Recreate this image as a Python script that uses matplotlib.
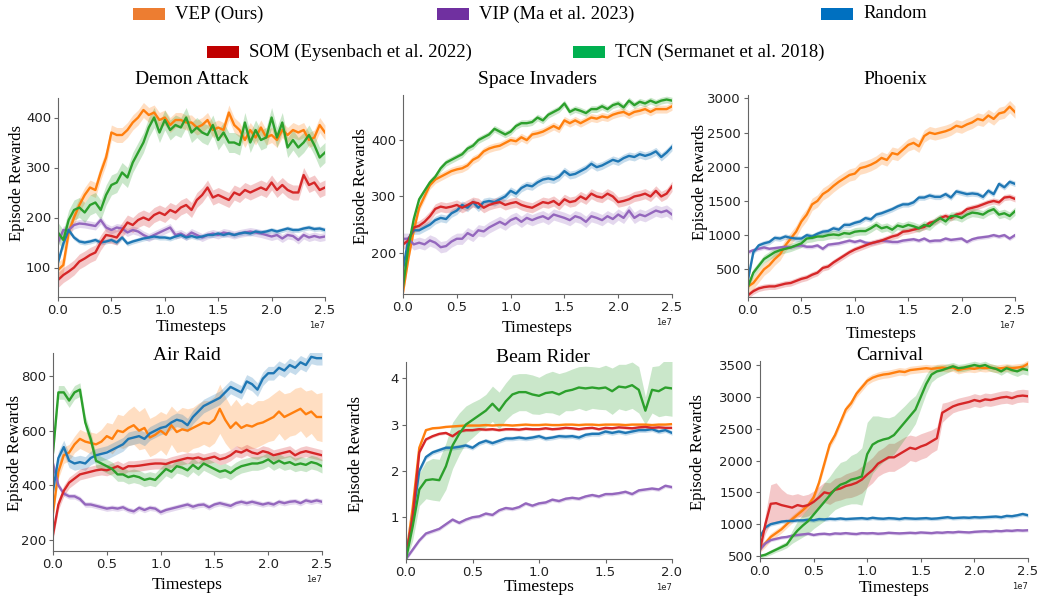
import numpy as np
import matplotlib
matplotlib.use('Agg')
from matplotlib import pyplot as plt
from matplotlib.patches import Rectangle

# method order: VEP, VIP, Random, SOM, TCN
methods = ['VEP (Ours)', 'VIP (Ma et al. 2023)', 'Random',
           'SOM (Eysenbach et al. 2022)', 'TCN (Sermanet et al. 2018)']
line_colors = ['#ff7f0e', '#9467bd', '#1f77b4', '#d62728', '#2ca02c']
legend_colors = ['#ED7D31', '#7030A0', '#0070C0', '#C00000', '#00B050']

steps_25 = np.arange(51) * 0.05e7
steps_20 = np.arange(41) * 0.05e7

# ---- Demon Attack
demon_vep = [95, 105, 170, 200, 225, 245, 260, 255, 290, 320,
             370, 365, 365, 375, 390, 400, 415, 405, 410, 395,
             400, 385, 395, 395, 390, 390, 380, 385, 395, 375,
             380, 375, 410, 385, 375, 355, 375, 360, 380, 360,
             365, 355, 375, 365, 375, 370, 375, 355, 360, 385, 370]
demon_vip = [150, 175, 175, 185, 188, 187, 185, 183, 195, 180,
             175, 180, 178, 170, 175, 172, 165, 160, 165, 170,
             175, 180, 165, 168, 162, 170, 165, 160, 165, 168,
             165, 170, 168, 165, 168, 170, 172, 170, 168, 165,
             162, 165, 158, 165, 163, 155, 165, 160, 163, 160, 162]
demon_random = [110, 148, 175, 160, 152, 150, 152, 155, 150, 152,
                155, 150, 160, 148, 152, 155, 158, 160, 162, 160,
                160, 158, 162, 165, 160, 163, 160, 162, 165, 165,
                168, 165, 168, 165, 168, 170, 168, 172, 170, 172,
                175, 172, 175, 178, 175, 175, 178, 180, 177, 178, 175]
demon_som = [75, 85, 92, 100, 112, 118, 125, 130, 150, 165,
             163, 160, 175, 190, 185, 195, 200, 195, 205, 210,
             205, 215, 210, 220, 225, 215, 235, 245, 260, 240,
             245, 240, 235, 250, 245, 255, 250, 255, 260, 255,
             270, 255, 265, 255, 250, 250, 285, 265, 270, 255, 260]
demon_tcn = [170, 155, 195, 215, 220, 210, 225, 230, 215, 245,
             265, 270, 290, 280, 310, 330, 350, 380, 400, 370,
             395, 375, 385, 380, 400, 370, 380, 370, 365, 385,
             355, 370, 350, 350, 345, 390, 350, 375, 355, 360,
             400, 360, 390, 340, 355, 340, 350, 365, 345, 320, 330]
demon_band = [15, 8, 5, 15, 20]

# ---- Space Invaders
space_vep = [130, 190, 240, 280, 300, 320, 330, 335, 340, 345,
             348, 350, 355, 365, 370, 380, 385, 388, 390, 395,
             400, 398, 405, 400, 410, 412, 415, 420, 425, 420,
             435, 430, 435, 430, 435, 440, 438, 442, 440, 445,
             448, 450, 445, 450, 452, 455, 450, 455, 455, 455, 460]
space_vip = [225, 225, 215, 218, 215, 222, 218, 210, 212, 220,
             225, 225, 235, 230, 240, 238, 245, 250, 255, 250,
             258, 262, 255, 262, 258, 262, 265, 260, 268, 265,
             262, 258, 265, 262, 255, 265, 262, 258, 265, 260,
             268, 262, 275, 262, 268, 265, 270, 275, 272, 275, 268]
space_random = [170, 225, 240, 240, 245, 250, 258, 262, 260, 270,
                275, 285, 280, 290, 280, 290, 292, 290, 295, 300,
                310, 305, 315, 320, 318, 325, 330, 332, 330, 335,
                345, 338, 340, 345, 350, 358, 352, 355, 360, 365,
                362, 368, 372, 370, 375, 372, 375, 380, 370, 378, 388]
space_som = [215, 222, 245, 248, 255, 265, 278, 282, 280, 282,
             285, 280, 285, 290, 288, 280, 285, 288, 290, 285,
             288, 290, 285, 282, 280, 285, 290, 288, 292, 285,
             295, 290, 292, 300, 295, 305, 300, 298, 305, 300,
             290, 292, 295, 300, 302, 305, 300, 310, 300, 305, 318]
space_tcn = [140, 210, 260, 295, 310, 325, 335, 350, 360, 365,
             370, 375, 385, 390, 400, 405, 410, 420, 415, 410,
             415, 425, 430, 430, 432, 440, 435, 445, 450, 455,
             465, 450, 455, 452, 448, 455, 455, 460, 455, 462,
             465, 458, 470, 462, 468, 465, 470, 466, 470, 472, 470]
space_band = [7, 10, 7, 9, 6]

# ---- Phoenix
phoenix_vep = [250, 300, 400, 500, 560, 650, 720, 850, 950, 1050,
               1200, 1300, 1450, 1500, 1600, 1650, 1720, 1780, 1830, 1880,
               1900, 1980, 2000, 2030, 2070, 2130, 2100, 2200, 2180, 2250,
               2320, 2350, 2300, 2450, 2500, 2480, 2500, 2520, 2550, 2600,
               2580, 2620, 2650, 2700, 2680, 2750, 2700, 2780, 2800, 2880, 2800]
phoenix_vip = [750, 780, 800, 820, 800, 810, 820, 830, 820, 840,
               850, 830, 830, 850, 800, 860, 870, 880, 900, 920,
               900, 920, 890, 880, 900, 920, 910, 900, 900, 920,
               930, 940, 920, 950, 910, 920, 920, 950, 930, 940,
               950, 900, 940, 960, 970, 980, 1000, 980, 1000, 950, 1000]
phoenix_random = [350, 750, 850, 880, 900, 960, 950, 980, 960, 950,
                  950, 1000, 980, 1020, 1050, 1060, 1100, 1080, 1150, 1150,
                  1180, 1200, 1250, 1230, 1300, 1320, 1350, 1380, 1420, 1450,
                  1450, 1480, 1550, 1550, 1580, 1560, 1560, 1600, 1550, 1640,
                  1620, 1600, 1610, 1600, 1560, 1650, 1600, 1750, 1700, 1780, 1750]
phoenix_som = [120, 180, 220, 240, 250, 250, 270, 290, 300, 330,
               360, 380, 420, 450, 520, 540, 600, 650, 700, 750,
               790, 820, 850, 880, 900, 920, 950, 980, 1000, 1050,
               1060, 1080, 1100, 1120, 1180, 1200, 1250, 1280, 1250, 1300,
               1320, 1380, 1400, 1420, 1450, 1480, 1500, 1480, 1550, 1560, 1530]
phoenix_tcn = [250, 450, 550, 650, 700, 750, 780, 800, 820, 850,
               880, 950, 960, 980, 980, 1000, 1010, 1000, 1030, 1020,
               1050, 1060, 1060, 1100, 1150, 1100, 1120, 1080, 1140, 1120,
               1150, 1130, 1100, 1150, 1130, 1200, 1250, 1200, 1280, 1280,
               1250, 1300, 1330, 1320, 1300, 1350, 1380, 1300, 1320, 1280, 1350]
phoenix_band = [90, 30, 40, 45, 60]

# ---- Air Raid
air_vep = [300, 450, 510, 520, 550, 570, 560, 555, 550, 560,
           580, 570, 600, 595, 610, 620, 600, 610, 575, 585,
           600, 585, 620, 595, 605, 600, 610, 620, 630, 625,
           640, 680, 640, 610, 630, 610, 620, 615, 625, 630,
           640, 650, 670, 650, 660, 670, 680, 660, 670, 650, 650]
air_vip = [480, 400, 370, 360, 360, 350, 330, 330, 325, 320,
           315, 318, 315, 320, 310, 305, 318, 310, 318, 315,
           302, 310, 315, 320, 325, 330, 322, 328, 330, 320,
           330, 335, 330, 325, 335, 340, 335, 340, 335, 330,
           335, 330, 340, 335, 340, 342, 335, 345, 340, 345, 340]
air_random = [380, 500, 540, 490, 480, 485, 480, 500, 510, 515,
              520, 530, 540, 550, 570, 575, 580, 570, 590, 600,
              610, 615, 630, 640, 635, 620, 650, 670, 690, 700,
              710, 720, 740, 760, 750, 740, 780, 770, 750, 790,
              810, 810, 830, 820, 840, 830, 850, 840, 870, 865, 865]
air_som = [220, 330, 380, 410, 425, 440, 445, 450, 455, 458,
           455, 462, 470, 460, 470, 470, 472, 475, 478, 480,
           480, 478, 485, 490, 495, 500, 498, 502, 495, 500,
           505, 495, 500, 510, 525, 520, 530, 520, 515, 525,
           520, 510, 515, 520, 525, 510, 520, 525, 520, 515, 510]
air_tcn = [520, 740, 740, 710, 740, 750, 630, 570, 490, 480,
           470, 460, 440, 440, 430, 435, 430, 420, 425, 420,
           440, 460, 450, 470, 465, 455, 475, 460, 480, 470,
           460, 450, 455, 445, 460, 470, 475, 480, 480, 485,
           495, 480, 490, 480, 485, 475, 480, 475, 485, 480, 470]
air_vep_band = [20, 25, 30, 30, 30, 35, 35, 40, 40, 45,
                50, 55, 60, 60, 65, 70, 70, 75, 70, 70,
                70, 75, 70, 75, 80, 80, 75, 80, 80, 85,
                85, 90, 85, 80, 85, 80, 85, 80, 85, 80,
                80, 85, 80, 85, 80, 85, 80, 85, 80, 85, 90]
air_band = [air_vep_band, 10, 25, 20, 25]

# ---- Beam Rider (0 .. 2e7)
beam_vep = [0.15, 1.2, 2.5, 2.88, 2.92, 2.93, 2.95, 2.96, 2.97, 2.98,
            2.98, 2.98, 2.99, 2.98, 2.99, 2.99, 2.98, 2.99, 3.0, 2.99,
            2.99, 3.0, 2.99, 2.99, 3.0, 3.0, 2.99, 3.0, 3.0, 2.99,
            3.0, 3.0, 3.0, 2.99, 3.0, 3.0, 3.0, 2.99, 3.0, 3.0, 3.01]
beam_vip = [0.1, 0.3, 0.5, 0.65, 0.7, 0.75, 0.85, 0.95, 0.88, 0.95,
            1.0, 1.02, 1.08, 1.05, 1.15, 1.2, 1.18, 1.22, 1.3, 1.25,
            1.3, 1.32, 1.38, 1.35, 1.4, 1.42, 1.4, 1.45, 1.48, 1.45,
            1.5, 1.5, 1.52, 1.55, 1.5, 1.58, 1.6, 1.62, 1.6, 1.68, 1.65]
beam_random = [0.15, 1.0, 2.0, 2.3, 2.4, 2.45, 2.5, 2.5, 2.52, 2.55,
               2.5, 2.6, 2.65, 2.6, 2.65, 2.7, 2.7, 2.72, 2.7, 2.72,
               2.75, 2.7, 2.72, 2.75, 2.74, 2.75, 2.72, 2.78, 2.8, 2.8,
               2.85, 2.82, 2.85, 2.82, 2.85, 2.88, 2.88, 2.9, 2.85, 2.88, 2.82]
beam_som = [0.15, 1.0, 2.4, 2.68, 2.75, 2.8, 2.82, 2.75, 2.85, 2.88,
            2.88, 2.9, 2.89, 2.9, 2.88, 2.9, 2.9, 2.89, 2.91, 2.9,
            2.9, 2.92, 2.9, 2.91, 2.93, 2.92, 2.9, 2.92, 2.93, 2.9,
            2.93, 2.92, 2.94, 2.93, 2.92, 2.94, 2.95, 2.93, 2.94, 2.93, 2.93]
beam_tcn = [0.1, 0.8, 1.6, 1.8, 1.82, 1.8, 2.1, 2.55, 2.8, 3.0,
            3.1, 3.2, 3.3, 3.45, 3.3, 3.5, 3.65, 3.7, 3.7, 3.65,
            3.62, 3.68, 3.7, 3.65, 3.72, 3.75, 3.8, 3.78, 3.8, 3.78,
            3.8, 3.72, 3.82, 3.8, 3.85, 3.75, 3.3, 3.75, 3.72, 3.8, 3.78]
beam_tcn_band = [0.05, 0.3, 0.35, 0.4, 0.45, 0.45, 0.5, 0.5, 0.45, 0.4,
                 0.38, 0.35, 0.35, 0.38, 0.4, 0.4, 0.42, 0.4, 0.4, 0.42,
                 0.4, 0.42, 0.45, 0.45, 0.42, 0.45, 0.45, 0.48, 0.45, 0.45,
                 0.48, 0.5, 0.48, 0.5, 0.5, 0.5, 0.3, 0.5, 0.55, 0.6, 0.6]
beam_band = [0.02, 0.04, 0.05, 0.03, beam_tcn_band]

# ---- Carnival
carnival_vep = [620, 700, 800, 860, 920, 1000, 1080, 1150, 1220, 1300,
                1420, 1650, 1950, 2250, 2400, 2600, 2800, 2900, 3050, 3150,
                3250, 3300, 3330, 3350, 3360, 3380, 3400, 3390, 3420, 3430,
                3440, 3450, 3440, 3450, 3460, 3450, 3460, 3420, 3440, 3450,
                3440, 3460, 3450, 3460, 3440, 3450, 3460, 3450, 3460, 3470, 3520]
carnival_vip = [600, 700, 750, 770, 790, 800, 820, 830, 840, 850,
                830, 845, 850, 840, 855, 850, 860, 850, 845, 860,
                855, 860, 850, 855, 865, 860, 855, 860, 865, 860,
                870, 865, 860, 870, 865, 875, 870, 880, 875, 870,
                880, 885, 890, 885, 895, 890, 900, 895, 905, 900, 905]
carnival_random = [800, 950, 1000, 1020, 1040, 1050, 1050, 1060, 1060, 1070,
                   1060, 1080, 1075, 1085, 1080, 1090, 1080, 1085, 1090, 1095,
                   1085, 1100, 1090, 1085, 1095, 1090, 1080, 1095, 1090, 1085,
                   1090, 1095, 1085, 1090, 1100, 1110, 1095, 1100, 1105, 1100,
                   1110, 1105, 1110, 1115, 1120, 1110, 1130, 1125, 1140, 1160, 1140]
carnival_som = [600, 1000, 1320, 1330, 1300, 1280, 1260, 1300, 1280, 1300,
                1350, 1420, 1500, 1480, 1540, 1560, 1600, 1620, 1650, 1700,
                1780, 1850, 1950, 2000, 2050, 2050, 2100, 2150, 2200, 2180,
                2220, 2250, 2300, 2350, 2750, 2800, 2850, 2880, 2900, 2920,
                2950, 2930, 2960, 2950, 2970, 2990, 3000, 2980, 3010, 3020, 3010]
carnival_tcn = [500, 520, 560, 600, 640, 680, 800, 900, 980, 1050,
                1150, 1250, 1350, 1450, 1550, 1620, 1650, 1700, 1720, 1750,
                2100, 2250, 2300, 2330, 2350, 2400, 2500, 2600, 2700, 2800,
                3000, 3200, 3350, 3400, 3420, 3450, 3480, 3450, 3460, 3480,
                3500, 3480, 3500, 3460, 3440, 3400, 3450, 3420, 3400, 3440, 3420]
carnival_som_band = [50, 150, 300, 320, 250, 200, 200, 180, 170, 170,
                     170, 170, 160, 170, 180, 180, 190, 200, 200, 210,
                     200, 200, 200, 200, 220, 220, 220, 220, 200, 200,
                     200, 200, 180, 180, 150, 120, 100, 100, 100, 100,
                     100, 100, 100, 100, 100, 100, 100, 100, 100, 100, 100]
carnival_tcn_band = [30, 30, 40, 40, 50, 50, 100, 150, 180, 200,
                     220, 260, 300, 300, 320, 350, 350, 380, 400, 450,
                     500, 450, 400, 350, 320, 300, 280, 260, 250, 220,
                     180, 150, 120, 100, 80, 70, 60, 60, 60, 60,
                     60, 60, 60, 60, 60, 60, 60, 70, 80, 80, 80]
carnival_band = [60, 25, 30, carnival_som_band, carnival_tcn_band]

W, H = 1037, 598
fig = plt.figure(figsize=(W / 100, H / 100), dpi=100)
serif = 'Liberation Serif'

# panel: title, steps, series, bands, ylim, ticks, box (l, t, r, b) px,
#        title xy px, ylabel xy px, xlabel y px
panels = [
    ('Demon Attack', steps_25, [demon_vep, demon_vip, demon_random, demon_som, demon_tcn],
     demon_band, (41, 439), [100, 200, 300, 400], (58, 98, 325, 297), (192, 80), (17, 183), 327),
    ('Space Invaders', steps_25, [space_vep, space_vip, space_random, space_som, space_tcn],
     space_band, (127, 480), [200, 300, 400], (403, 95, 672, 294), (538, 80), (361, 186), 328),
    ('Phoenix', steps_25, [phoenix_vep, phoenix_vip, phoenix_random, phoenix_som, phoenix_tcn],
     phoenix_band, (95, 3050), [500, 1000, 1500, 2000, 2500, 3000], (748, 95, 1015, 297), (895, 80), (700, 182), 334),
    ('Air Raid', steps_25, [air_vep, air_vip, air_random, air_som, air_tcn],
     air_band, (160, 884), [200, 400, 600, 800], (53, 353, 322, 551), (187, 355), (15, 453), 585),
    ('Beam Rider', steps_20, [beam_vep, beam_vip, beam_random, beam_som, beam_tcn],
     beam_band, (0.1, 4.35), [1, 2, 3, 4], (406, 362, 672, 559), (543, 357), (356, 454), 587),
    ('Carnival', steps_25, [carnival_vep, carnival_vip, carnival_random, carnival_som, carnival_tcn],
     carnival_band, (469, 3563), [500, 1000, 1500, 2000, 2500, 3000, 3500], (760, 361, 1028, 558), (890, 356), (698, 452), 588),
]

for title, steps, series, bands, ylim, yticks, box, tpos, ypos, xlab_y in panels:
    l, t, r, b = box
    ax = fig.add_axes([l / W, 1 - b / H, (r - l) / W, (b - t) / H])
    for vals, band, c in zip(series, bands, line_colors):
        vals = np.array(vals, dtype=float)
        band = np.array(band, dtype=float)
        ax.fill_between(steps, vals - band, vals + band, color=c, alpha=0.25, lw=0)
        ax.plot(steps, vals, color=c, lw=1.7)
    ax.set_xlim(steps[0], steps[-1])
    ax.set_ylim(*ylim)
    ax.set_yticks(yticks)
    ax.spines['top'].set_visible(False)
    ax.spines['right'].set_visible(False)
    for s in ('left', 'bottom'):
        ax.spines[s].set_color('#666666')
    ax.tick_params(labelsize=9.5, colors='#222222', length=3, pad=2, color='#666666')
    ax.xaxis.get_offset_text().set_fontsize(6)
    fig.text(tpos[0] / W, 1 - tpos[1] / H, title, family=serif, fontsize=14,
             ha='center', va='center')
    fig.text(ypos[0] / W, 1 - ypos[1] / H, 'Episode Rewards', family=serif,
             fontsize=12, rotation=90, ha='center', va='center')
    fig.text(((l + r) / 2) / W, 1 - xlab_y / H, 'Timesteps', family=serif,
             fontsize=12.5, ha='center', va='center')

# legend at the top
legend_pos = [(133, 14), (437, 14), (821, 14), (207, 52), (573, 52)]
for (px, py), name, c in zip(legend_pos, methods, legend_colors):
    fig.add_artist(Rectangle((px / W, 1 - (py + 6) / H), 32 / W, 12 / H,
                             transform=fig.transFigure, color=c, lw=0))
    fig.text((px + 42) / W, 1 - py / H, name, family=serif, fontsize=13.5,
             ha='left', va='center')

plt.savefig('out.png', dpi=100)
